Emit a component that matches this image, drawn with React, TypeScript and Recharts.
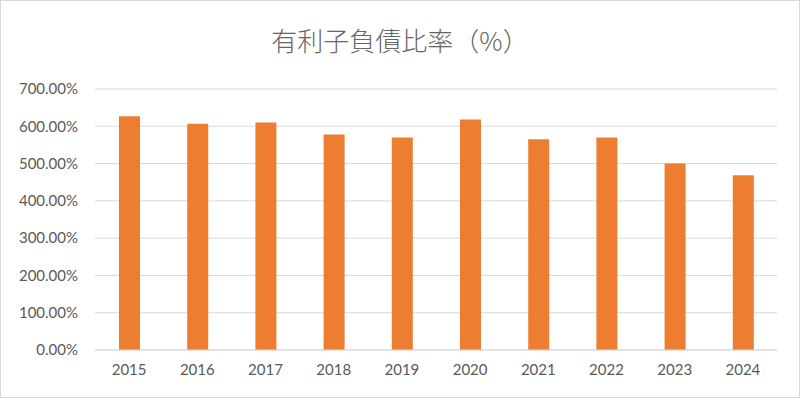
import { BarChart, Bar, XAxis, YAxis, CartesianGrid } from 'recharts';

const YEARS = ['2015', '2016', '2017', '2018', '2019', '2020', '2021', '2022', '2023', '2024'];
const RATIO = [627, 607, 610, 578, 570, 618, 565, 570, 500, 469];
const Y_TICKS = [0, 100, 200, 300, 400, 500, 600, 700];

const TITLE = '有利子負債比率（%）';
const BAR_COLOR = '#ED7D31';
const TEXT_COLOR = '#595959';

const data = YEARS.map((year, i) => ({ year, value: RATIO[i] }));

export default function App() {
    return (
        <div
            style={{
                position: 'fixed',
                top: 0,
                left: 0,
                width: 800,
                height: 398,
                background: '#fff',
                boxSizing: 'border-box',
                border: '1px solid #d9d9d9',
                fontFamily: 'Lato, "Noto Sans CJK JP", sans-serif',
            }}
        >
            <div
                style={{
                    position: 'absolute',
                    top: 21,
                    left: 0,
                    width: '100%',
                    textAlign: 'center',
                    fontSize: 26,
                    fontWeight: 300,
                    lineHeight: '36px',
                    color: '#666',
                    fontFamily: '"Noto Sans CJK JP", sans-serif',
                }}
            >
                {TITLE}
            </div>
            <div style={{ position: 'absolute', top: -1, left: -1 }}>
                <BarChart
                    width={800}
                    height={398}
                    data={data}
                    margin={{ top: 89, right: 23, left: 0, bottom: 0 }}
                >
                    <CartesianGrid vertical={false} stroke="#d9d9d9" />
                    <XAxis
                        dataKey="year"
                        height={48}
                        tickLine={false}
                        tickSize={0}
                        tickMargin={14}
                        axisLine={{ stroke: '#d9d9d9' }}
                        tick={{ fill: TEXT_COLOR, fontSize: 15 }}
                    />
                    <YAxis
                        width={95}
                        domain={[0, 700]}
                        ticks={Y_TICKS}
                        axisLine={false}
                        tickLine={false}
                        tickSize={0}
                        tickMargin={17}
                        tick={{ fill: TEXT_COLOR, fontSize: 15 }}
                        tickFormatter={(v: number) => `${v.toFixed(2)}%`}
                    />
                    <Bar
                        dataKey="value"
                        fill={BAR_COLOR}
                        barSize={21}
                        isAnimationActive={false}
                    />
                </BarChart>
            </div>
        </div>
    );
}
